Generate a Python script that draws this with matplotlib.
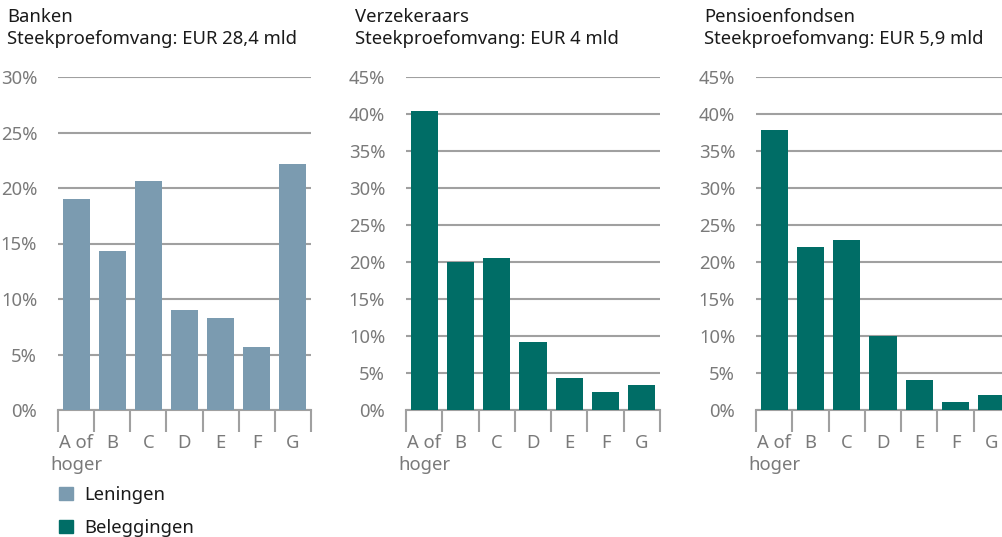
import matplotlib
matplotlib.use('Agg')
import matplotlib.pyplot as plt
from matplotlib.patches import Patch

plt.rcParams['font.family'] = ['Noto Sans', 'DejaVu Sans']

# data (percentages)
categories = ['A of\nhoger', 'B', 'C', 'D', 'E', 'F', 'G']
banken = [19.0, 14.3, 20.6, 9.0, 8.3, 5.7, 22.2]
verzekeraars = [40.4, 20.0, 20.6, 9.2, 4.3, 2.4, 3.4]
pensioenfondsen = [37.9, 22.0, 23.0, 10.0, 4.0, 1.1, 2.0]

titles = ['Banken\nSteekproefomvang: EUR 28,4 mld',
          'Verzekeraars\nSteekproefomvang: EUR 4 mld',
          'Pensioenfondsen\nSteekproefomvang: EUR 5,9 mld']
ymax = [30, 45, 45]

col_len = '#7b9bb0'
col_bel = '#006d66'
grid_col = '#a0a0a0'
lab_col = '#7a7a7a'

W, H = 1003, 537
fig = plt.figure(figsize=(W / 100, H / 100), dpi=100)

lefts = [58, 406, 756]
widths = [253, 254, 254]
series = [banken, verzekeraars, pensioenfondsen]
colors = [col_len, col_bel, col_bel]
title_x = [7, 355, 704]

top, bottom = 77, 410
fs = 13.3

for i in range(3):
    ax = fig.add_axes([lefts[i] / W, 1 - bottom / H, widths[i] / W, (bottom - top) / H])
    x = range(len(categories))
    ax.bar(x, series[i], width=0.75, color=colors[i], zorder=3)
    ax.set_xlim(-0.5, len(categories) - 0.5)
    ax.set_ylim(0, ymax[i])
    yt = list(range(0, ymax[i] + 1, 5))
    ax.set_yticks(yt)
    ax.set_yticklabels([f'{v}%' for v in yt])
    ax.yaxis.grid(True, color=grid_col, linewidth=1.5, zorder=0)
    ax.tick_params(axis='y', length=0, pad=15, labelsize=fs, labelcolor=lab_col)
    # boundaries as major ticks, labels on minor ticks
    ax.set_xticks([k - 0.5 for k in range(len(categories) + 1)])
    ax.set_xticklabels([])
    ax.set_xticks(list(x), minor=True)
    ax.set_xticklabels(categories, minor=True, linespacing=1.3)
    ax.tick_params(axis='x', which='major', length=16, width=1.5, color=grid_col)
    ax.tick_params(axis='x', which='minor', length=0, pad=17, labelsize=fs, labelcolor=lab_col)
    for s in ['top', 'right', 'left']:
        ax.spines[s].set_visible(False)
    ax.spines['bottom'].set_color(grid_col)
    ax.spines['bottom'].set_linewidth(1.5)
    ax.set_axisbelow(True)
    fig.text(title_x[i] / W, 1 - 8 / H, titles[i], ha='left', va='top',
             fontsize=fs, color='#1a1a1a', linespacing=1.3)

handles = [Patch(color=col_len, label='Leningen'), Patch(color=col_bel, label='Beleggingen')]
fig.legend(handles=handles, loc='upper left', bbox_to_anchor=(46 / W, 1 - 473 / H),
           frameon=False, fontsize=fs, handlelength=0.75, handleheight=0.75,
           handletextpad=0.6, labelspacing=0.8, labelcolor='#1a1a1a',
           borderaxespad=0.3)

plt.savefig('out.png', dpi=100)
